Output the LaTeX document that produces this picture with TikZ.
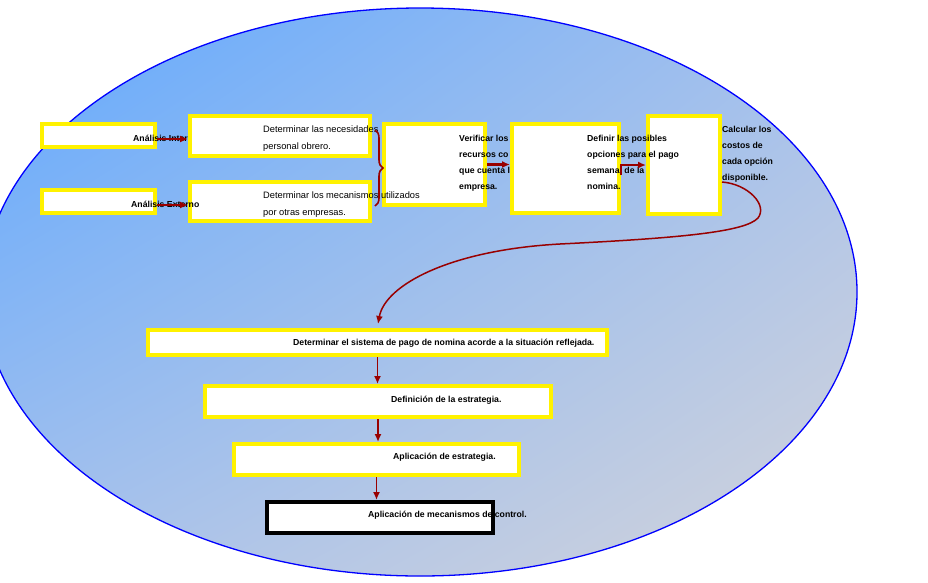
\documentclass[tikz,border=0pt]{standalone}
\usepackage{fontspec}
\setmainfont{Liberation Sans}
\usetikzlibrary{arrows.meta,decorations.pathreplacing,shadings}

\definecolor{fondoA}{HTML}{5FA8FF}
\definecolor{fondoM}{HTML}{A6C1EC}
\definecolor{fondoB}{HTML}{D4D4DA}
\definecolor{rojo}{HTML}{990000}

\begin{document}
\begin{tikzpicture}[x=1pt,y=-1pt,
    caja/.style={draw=yellow, line width=4pt, fill=white, inner sep=0pt},
    cajafin/.style={caja, draw=black},
    txt/.style={font=\fontsize{8.7}{16}\selectfont\bfseries, inner sep=0pt, align=left},
    txtn/.style={font=\fontsize{9.3}{17}\selectfont, inner sep=0pt, align=left},
    flecha/.style={draw=rojo, line width=2.2pt, -{Latex[length=8pt,width=7pt]}}]
    \useasboundingbox (0,0) rectangle (928,582);
    \clip (0,0) rectangle (928,582);
    % fondo
    \shade[upper left=fondoA, upper right=fondoM, lower left=fondoM, lower right=fondoB]
        (420,292) ellipse [x radius=437, y radius=284];
    \draw[blue, line width=1.3pt] (420,292) ellipse [x radius=437, y radius=284];

    % fila de arriba
    \node[caja, minimum width=113pt, minimum height=23pt] (intA) at (98.5,135.5) {};
    \node[caja, minimum width=113pt, minimum height=23pt] (extA) at (98.5,201.5) {};
    \node[caja, minimum width=180pt, minimum height=40pt] (necA) at (280,136) {};
    \node[caja, minimum width=180pt, minimum height=39pt] (mecA) at (280,201.5) {};
    \node[caja, minimum width=101pt, minimum height=81pt] (verif) at (434.5,164.5) {};
    \node[caja, minimum width=107pt, minimum height=89pt] (defin) at (565.5,168.5) {};
    \node[caja, minimum width=72pt, minimum height=98pt] (calc) at (684,165) {};

    \node[txt, anchor=west] (tIntA) at (133,138) {Análisis Inter};
    \node[txt, anchor=west] (tExtA) at (131,204) {Análisis Externo};
    \node[txtn, anchor=north west] (tNec) at (263,126) {Determinar las necesidades\\personal obrero.};
    \node[txtn, anchor=north west] (tMec) at (263,192) {Determinar los mecanismos utilizados\\por otras empresas.};
    \node[txt, anchor=north west] (tVer) at (459,134.5) {Verificar los\\recursos co\\que cuenta l\\empresa.};
    \node[txt, anchor=north west] (tDef) at (587,134.5) {Definir las posibles\\opciones para el pago\\semanal de la\\nomina.};
    \node[txt, anchor=north west] (tCalc) at (722,125.5) {Calcular los\\costos de\\cada opción\\disponible.};

    % fila de abajo
    \node[caja, minimum width=459pt, minimum height=25pt] (sist) at (377.5,342.5) {};
    \node[caja, minimum width=346pt, minimum height=31pt] (estr) at (378,401.5) {};
    \node[caja, minimum width=285pt, minimum height=31pt] (aplic) at (376.5,459.5) {};
    \node[cajafin, minimum width=226pt, minimum height=31pt] (ctrl) at (380,517.5) {};

    \node[txt, anchor=west] (tSist) at (293,343) {Determinar el sistema de pago de nomina acorde a la situación reflejada.};
    \node[txt, anchor=west] (tEstr) at (391,400) {Definición de la estrategia.};
    \node[txt, anchor=west] (tApl) at (393,457) {Aplicación de estrategia.};
    \node[txt, anchor=west] (tCtrl) at (368,515) {Aplicación de mecanismos de control.};

    % flechas
    \draw[flecha] ([yshift=-3.5pt]intA.east) -- ([yshift=-3.5pt]intA.east -| necA.west);
    \draw[flecha] ([yshift=-3.5pt]extA.east) -- ([yshift=-3.5pt]extA.east -| mecA.west);
    \draw[flecha] (verif.east) -- (verif.east -| defin.west);
    \draw[flecha] ([yshift=-6pt]defin.east) |- (calc.west);
    \coordinate (llaveA) at (375,130);
    \coordinate (llaveB) at (375,206);
    \draw[rojo, line width=1.6pt, decorate, decoration={brace, amplitude=8pt}] (llaveA) -- (llaveB);

    \coordinate (curva) at (378,324);
    \draw[flecha, line width=1.5pt] ([yshift=-17pt]calc.east) .. controls (748,184) and (768,205) .. (758,218)
        .. controls (745,232) and (680,238) .. (560,244)
        .. controls (450,250) and (385,285) .. (curva);

    \draw[flecha, line width=1.7pt] (sist.south) -- (sist.south |- estr.north);
    \draw[flecha, line width=1.7pt] (estr.south) -- (estr.south |- aplic.north);
    \draw[flecha, line width=1.7pt] (aplic.south) -- (aplic.south |- ctrl.north);
\end{tikzpicture}
\end{document}
